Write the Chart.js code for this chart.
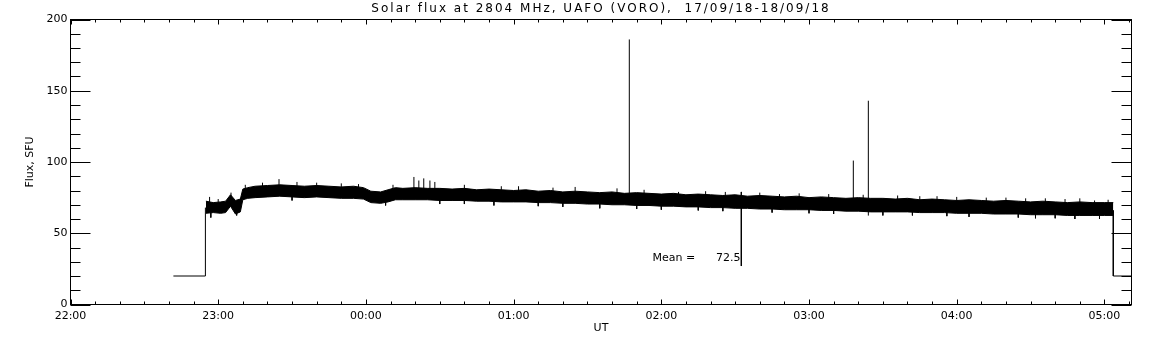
<!DOCTYPE html>
<html>
<head>
<meta charset="utf-8">
<script src="https://cdn.jsdelivr.net/npm/chart.js@4.4.1/dist/chart.umd.min.js"></script>
<style>
  html, body { margin: 0; padding: 0; background: #fff; }
  #wrap { width: 1152px; height: 345px; }
</style>
</head>
<body>
<div id="wrap"><canvas id="chart" width="1152" height="345"></canvas></div>
<script>
// time is minutes after 22:00 UT (17/09/18)
const bandTimes = [
  55, 58, 61, 63, 65, 67, 69, 70, 72, 75,
  80, 85, 90, 95, 100, 105, 110, 115,
  119, 122, 126, 129, 132, 135,
  140, 145, 150, 155, 160, 165, 170, 175, 180, 185,
  190, 195, 200, 205, 210, 215, 220, 225, 230, 235,
  240, 245, 250, 255, 260, 265, 270, 275, 280, 285,
  290, 295, 300, 305, 310, 315, 320, 325, 330, 335,
  340, 345, 350, 355, 360, 365, 370, 375, 380, 385,
  390, 395, 400, 405, 410, 415, 420, 423.6
];
const bandUpper = [
  72.5, 71.5, 72, 72.5, 77, 73, 74, 81, 82, 83,
  83.5, 84, 83.5, 83, 83.5, 83, 82.5, 83,
  82, 79.5, 79, 80.5, 82, 81.5,
  82, 81.5, 81.5, 81, 81.5, 80.5, 81, 80.5, 80, 80.5,
  79.5, 80, 79, 79.5, 79, 78.5, 79, 78, 78.5, 78,
  77.5, 78, 77, 77.5, 77, 76.5, 77, 76, 76.5, 76,
  75.5, 76, 75, 75.5, 75, 74.5, 75, 74.5, 74.5, 74,
  74.5, 73.5, 74, 73.5, 73, 73.5, 73, 72.5, 73, 72.5,
  72, 72.5, 72, 71.5, 72, 71.5, 71.5, 71.5
];
const bandLower = [
  64, 64.5, 64, 64.5, 69, 63.5, 65, 73.5, 74.5, 75,
  75.5, 76, 75.5, 75, 75.5, 75, 74.5, 74.5,
  74, 71.5, 71, 72, 73.5, 73.5,
  73.5, 73.5, 73, 73, 73, 72.5, 72.5, 72, 72, 72,
  71.5, 71.5, 71, 71, 70.5, 70.5, 70, 70, 69.5, 69.5,
  69, 69, 68.5, 68.5, 68, 68, 67.5, 67.5, 67, 67,
  66.5, 66.5, 66.5, 66, 66, 65.5, 65.5, 65, 65, 65,
  65, 64.5, 64.5, 64.5, 64, 64, 64, 63.5, 63.5, 63.5,
  63, 63, 63, 62.5, 62.5, 62.5, 62.5, 62.5
];

// receiver off before/after the session
const startTimes = [41.8, 54.8, 54.8];
const startValues = [20, 20, 68];
const endTimes = [423.6, 423.6, 440];
const endValues = [66, 20, 20];

// bursts / interference spikes
const spikeTimes = [227.0, 272.5, 318.0, 324.1];
const spikeFrom = [78, 79, 70, 62.4];
const spikeTo = [186, 27, 101, 143];

// small noise hairs sticking out of the band
const hairTimes = [
  56.5, 60, 65.2, 71, 78, 84.7, 92, 100, 110, 117, 131, 139.5, 141.5, 143.5, 146, 148, 160, 175, 196, 247, 288, 345, 372, 396, 416, 421.5,
  182, 205, 222, 233, 258, 266, 280, 296, 308, 322, 336, 352, 360, 380, 388, 404, 410,
  57, 67.5, 90, 128, 150, 215, 240, 300, 330, 365, 400, 418,
  160, 172, 190, 200, 230, 255, 265, 285, 310, 342, 356, 385, 392, 408
];
const hairFrom = [
  70, 70, 74, 78, 80, 80, 80, 80, 80, 80, 78, 78, 78, 78, 78, 78, 78, 77, 76, 74, 72, 70, 70, 69, 68, 68,
  79, 78, 77, 76, 75, 74, 74, 73, 72, 72, 71, 71, 70, 70, 69, 69, 68,
  66, 66, 78, 74, 76, 73, 72, 69, 68, 67, 66, 65,
  75, 74, 73, 73, 71, 70, 70, 69, 68, 67, 66, 65, 65, 64
];
const hairTo = [
  75.5, 74, 78.5, 84, 85.5, 88, 86, 85.5, 85, 84.5, 84, 89.5, 87, 88.5, 87, 86, 84, 83, 82, 79, 77.5, 76, 75, 74.5, 73, 73.5,
  83, 82.5, 81.5, 80.5, 79.5, 79, 78.5, 78, 77.5, 77, 76.5, 76, 75.5, 75, 74.5, 74, 74.5,
  61, 62.5, 73, 69.5, 70.5, 67.5, 66.5, 64, 62.5, 61.5, 60.5, 60,
  70.5, 69.5, 69, 68.5, 67, 66, 65.5, 64.5, 63.5, 62.5, 62, 61, 60.5, 60
];

const xTickMinutes = [0, 60, 120, 180, 240, 300, 360, 420];
const yTickValues = [0, 50, 100, 150, 200];

const titleText = "Solar flux at 2804 MHz, UAFO (VORO),  17/09/18-18/09/18";
const yTitle = "Flux, SFU";
const xTitle = "UT";
const meanText = "Mean =      72.5";
const meanAt = { x: 272.2, y: 32.5 };

const pts = (xs, ys) => xs.map((x, i) => ({ x, y: ys[i] }));
function segments(xs, from, to) {
  const out = [];
  xs.forEach((x, i) => {
    out.push({ x, y: from[i] }, { x, y: to[i] }, { x, y: null });
  });
  return out;
}
function hhmm(m) {
  const h = (22 + Math.floor(m / 60)) % 24;
  const mm = Math.round(m % 60);
  return String(h).padStart(2, "0") + ":" + String(mm).padStart(2, "0");
}

const FONT = "'DejaVu Sans', sans-serif";
Chart.defaults.font.family = FONT;
Chart.defaults.color = "#000";

const lineBase = { borderColor: "#000", borderWidth: 1, pointRadius: 0, tension: 0, fill: false, spanGaps: false };

const framePlugin = {
  id: "frame",
  afterDraw(chart) {
    const { ctx, chartArea: a, scales: { x, y } } = chart;
    ctx.save();
    ctx.strokeStyle = "#000";
    ctx.lineWidth = 1;
    ctx.strokeRect(a.left, a.top, a.right - a.left, a.bottom - a.top);
    ctx.beginPath();
    for (let m = 0; m <= x.max; m += 10) {
      const px = Math.round(x.getPixelForValue(m)) + 0.5;
      const len = m % 60 === 0 ? 5 : 3;
      ctx.moveTo(px, a.bottom); ctx.lineTo(px, a.bottom - len);
      ctx.moveTo(px, a.top); ctx.lineTo(px, a.top + len);
    }
    for (let v = 0; v <= 200; v += 10) {
      const py = Math.round(y.getPixelForValue(v)) + 0.5;
      const len = v % 50 === 0 ? 20 : 10;
      ctx.moveTo(a.left, py); ctx.lineTo(a.left + len, py);
      ctx.moveTo(a.right, py); ctx.lineTo(a.right - len, py);
    }
    ctx.stroke();

    ctx.fillStyle = "#000";
    ctx.font = "12px " + FONT;
    ctx.textAlign = "center";
    ctx.textBaseline = "middle";
    ctx.letterSpacing = "2px";
    ctx.fillText(titleText, (a.left + a.right) / 2, 9);
    ctx.letterSpacing = "0px";

    ctx.font = "11px " + FONT;
    ctx.fillText(xTitle, (a.left + a.right) / 2, 328);
    ctx.save();
    ctx.translate(30, (a.top + a.bottom) / 2);
    ctx.rotate(-Math.PI / 2);
    ctx.fillText(yTitle, 0, 0);
    ctx.restore();

    ctx.textAlign = "right";
    ctx.fillText(meanText, x.getPixelForValue(meanAt.x), y.getPixelForValue(meanAt.y));
    ctx.restore();
  }
};

new Chart(document.getElementById("chart"), {
  type: "line",
  data: {
    datasets: [
      { ...lineBase, data: pts(bandTimes, bandLower) },
      { ...lineBase, data: pts(bandTimes, bandUpper), fill: "-1", backgroundColor: "#000" },
      { ...lineBase, data: pts(startTimes, startValues) },
      { ...lineBase, data: pts(endTimes, endValues) },
      { ...lineBase, data: segments(spikeTimes, spikeFrom, spikeTo) },
      { ...lineBase, data: segments(hairTimes, hairFrom, hairTo) }
    ]
  },
  options: {
    responsive: false,
    animation: false,
    events: [],
    layout: { padding: { top: 19.5, right: 20.5, left: 0, bottom: 0 } },
    plugins: { legend: { display: false }, tooltip: { enabled: false } },
    scales: {
      x: {
        type: "linear", min: 0, max: 431,
        afterFit: (s) => { s.height = 40.5; },
        afterBuildTicks: (s) => { s.ticks = xTickMinutes.map((v) => ({ value: v })); },
        ticks: { callback: (v) => hhmm(v), font: { size: 11 }, padding: 5, maxRotation: 0, autoSkip: false, includeBounds: false },
        grid: { display: false, drawTicks: false },
        border: { display: false }
      },
      y: {
        type: "linear", min: 0, max: 200,
        afterFit: (s) => { s.width = 70.5; },
        afterBuildTicks: (s) => { s.ticks = yTickValues.map((v) => ({ value: v })); },
        ticks: { font: { size: 11 }, padding: 3 },
        grid: { display: false, drawTicks: false },
        border: { display: false }
      }
    }
  },
  plugins: [framePlugin]
});
</script>
</body>
</html>
